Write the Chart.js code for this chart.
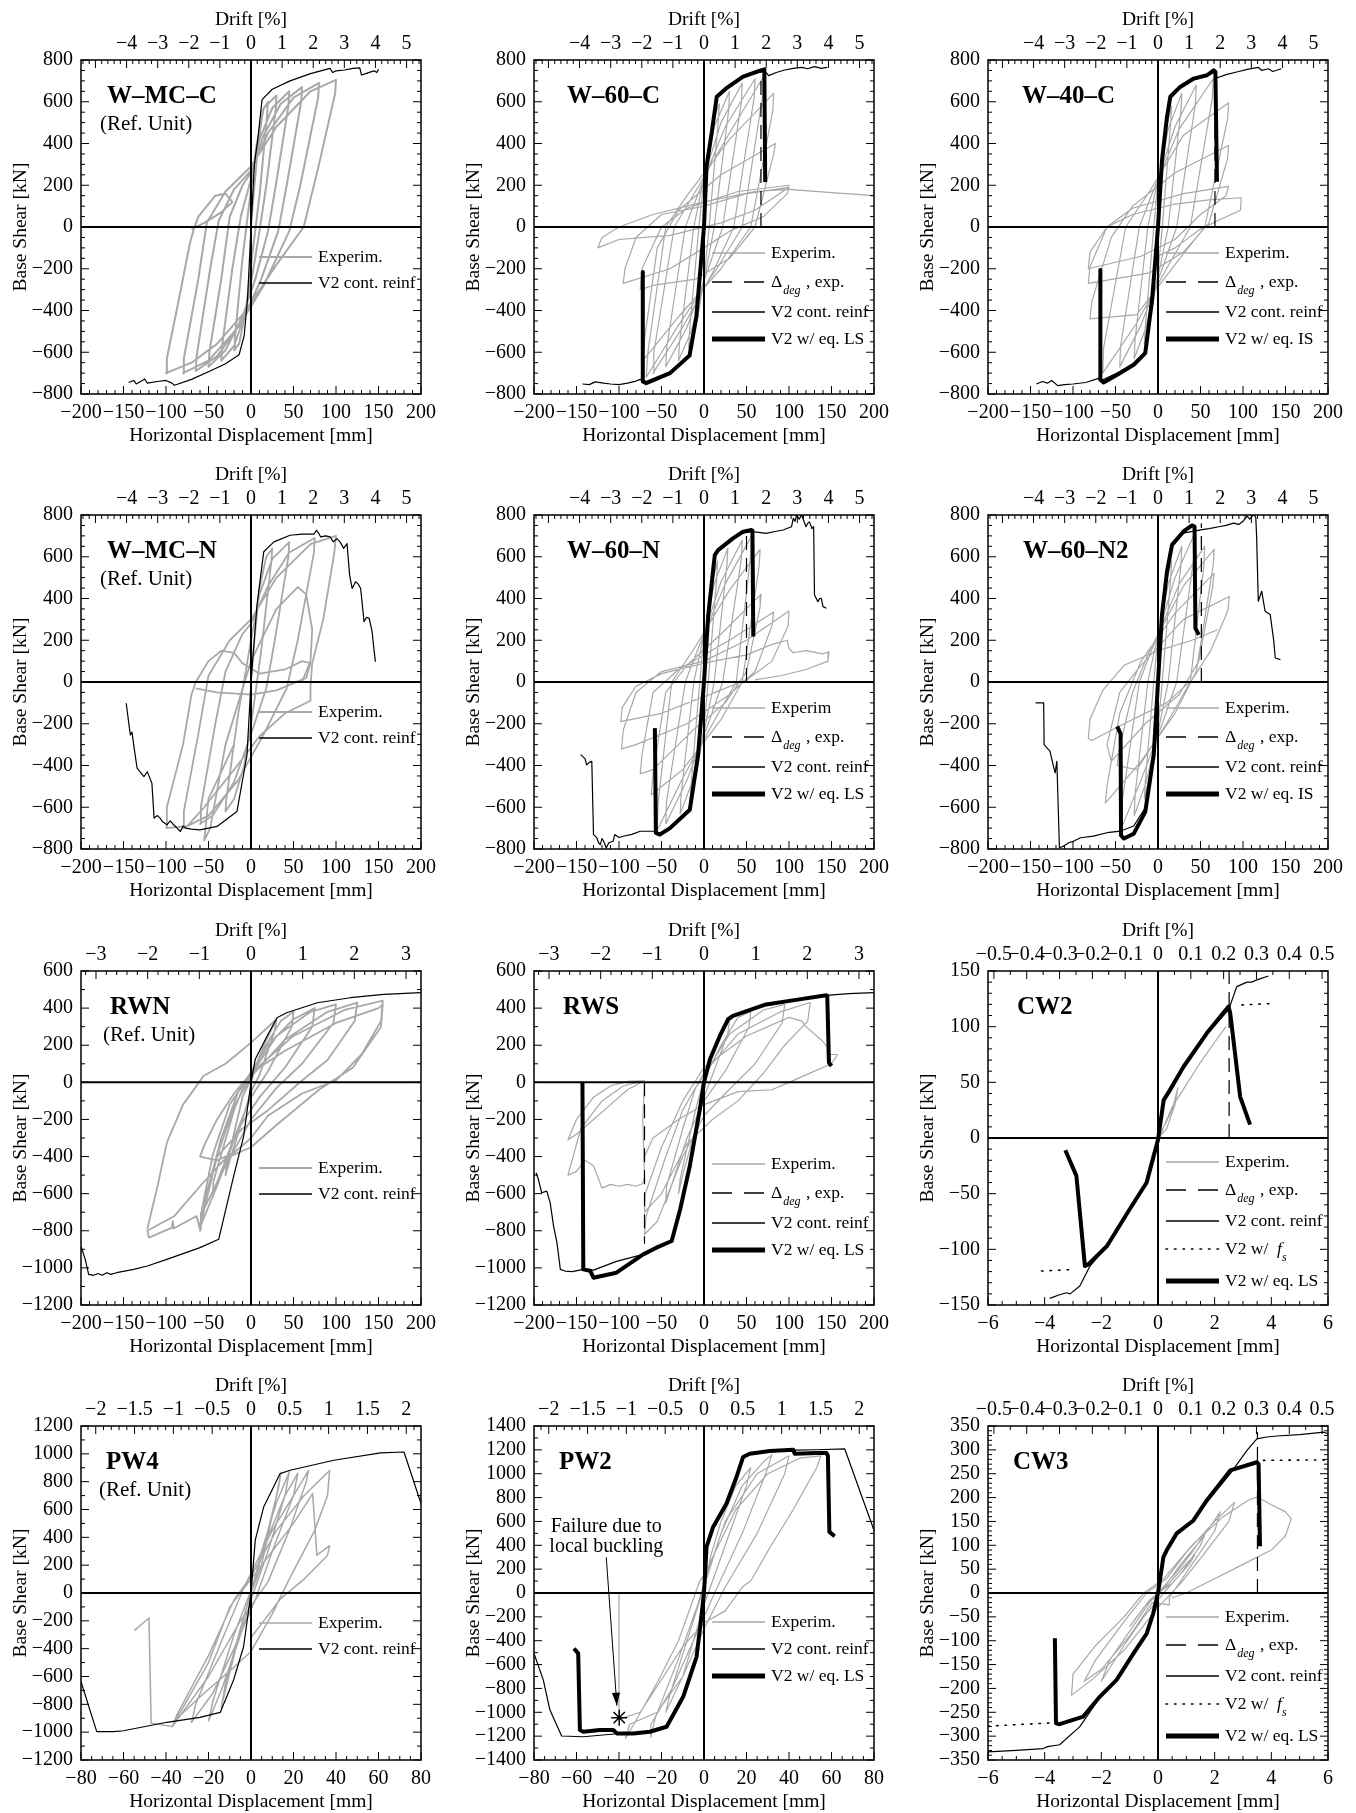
<!DOCTYPE html>
<html>
<head>
<meta charset="utf-8">
<script src="https://cdn.jsdelivr.net/npm/chart.js@4.4.0/dist/chart.umd.min.js"></script>
<style>
html, body { margin: 0; padding: 0; background: #fff; }
#wrap { position: relative; width: 1356px; height: 1813px; }
#wrap canvas { position: absolute; }
</style>
</head>
<body>
<div id="wrap"></div>
<script>
// ---- data: [displacement, base shear] ----

// W-MC-C
const wmcc_exp = [[
  [0,0],[3,150],[8,380],[14,560],[20,600],
  [19,540],[10,150],[4,-50],[0,-180],[-6,-400],[-14,-560],[-20,-590],
  [-19,-530],[-10,-150],[-4,50],[0,180],[6,380],[15,570],[30,630],
  [29,560],[18,200],[10,-20],[2,-220],[-8,-430],[-20,-570],[-35,-640],
  [-34,-570],[-22,-200],[-12,50],[0,230],[10,420],[25,570],[45,650],
  [44,580],[30,220],[20,-20],[5,-250],[-10,-430],[-30,-590],[-50,-670],
  [-49,-600],[-35,-250],[-25,50],[-10,200],[0,260],[15,440],[35,590],[60,670],
  [59,600],[42,200],[32,-20],[12,-250],[-10,-450],[-40,-620],[-65,-690],
  [-64,-620],[-48,-200],[-38,30],[-20,180],[0,270],[20,450],[50,620],[80,690],
  [79,620],[58,200],[45,-20],[15,-280],[-15,-480],[-50,-640],[-80,-700],
  [-79,-630],[-62,-250],[-52,20],[-30,170],[0,290],[30,480],[70,650],[100,705],
  [99,640],[80,300],[62,0],[30,-180],[12,-290],[-10,-420],[-40,-560],[-70,-650],[-100,-700],
  [-99,-630],[-85,-350],[-72,-80],[-68,-20],[-62,50],[-50,110],[-42,150],[-30,160],[-22,120],[-35,70],[-55,20],[-70,-10]
]];
const wmcc_cont = [[-144,-745],[-138,-735],[-135,-752],[-125,-728],[-122,-748],[-110,-740],[-100,-735],[-93,-748],[-90,-758],[-70,-730],[-48,-690],[-30,-655],[-14,-612],[-8,-520],[-4,-340],[0,0],[4,300],[8,420],[13,610],[25,660],[46,700],[70,735],[93,760],[96,740],[100,748],[110,752],[120,760],[128,762],[130,728],[135,735],[140,742],[145,748],[148,740],[150,755]];

// W-60-C
const w60c_exp = [[
  [0,0],[4,300],[10,500],[18,590],[17,520],[6,0],[0,-250],[-8,-450],[-18,-580],[-17,-500],[-6,0],[0,230],
  [12,480],[30,650],[29,560],[12,0],[0,-260],[-15,-500],[-30,-640],[-29,-560],[-12,0],[0,240],
  [20,500],[45,690],[44,600],[22,0],[5,-200],[-20,-480],[-45,-670],[-44,-580],[-22,0],[-5,180],
  [25,480],[60,710],[59,620],[35,0],[10,-220],[-25,-480],[-60,-700],[-59,-600],[-35,0],[-10,170],
  [30,450],[70,720],[69,630],[45,0],[15,-200],[-30,-470],[-68,-720],[-66,-600],[-45,0],[-20,150],
  [30,420],[82,640],[81,560],[55,0],[20,-200],[-30,-430],[-72,-640],[-70,-540],[-55,-100],[-30,80],
  [20,250],[84,400],[82,350],[60,0],[30,-150],[-10,-250],[-60,-280],[-75,-300],[-73,-200],[-50,0],[-20,90],
  [40,170],[100,200],[98,160],[70,50],[30,-20],[0,-100],[-40,-200],[-95,-270],[-93,-200],[-80,-50],[-50,60],[0,100],
  [50,160],[100,190],[60,80],[20,20],[-40,-40],[-100,-60],[-125,-100],[-120,-50],[-100,0],[-60,60],[0,120],[60,170],[100,180],[150,165],[200,150]
]];
const w60c_cont = [[-143,-752],[-135,-755],[-128,-742],[-118,-748],[-110,-752],[-100,-755],[-90,-748],[-80,-738],[-75,-730],[-72,-735],[-68,-740],[-40,-695],[-17,-612],[-9,-425],[-4,-185],[0,0],[3,285],[9,445],[15,620],[26,660],[46,715],[65,742],[72,745],[76,725],[85,740],[95,752],[105,760],[115,765],[122,758],[130,768],[138,760],[145,765]];
const w60c_ls = [[-72,-215],[-72,-740],[-68,-748],[-40,-700],[-17,-616],[-9,-430],[-4,-190],[0,0],[3,290],[9,450],[15,624],[26,664],[46,720],[65,748],[71,755],[72,215]];
const w60c_deg = [[67,0],[67,750]];

// W-40-C
const w40c_exp = [[
  [0,0],[4,280],[10,480],[16,580],[15,500],[5,0],[0,-220],[-8,-420],[-16,-560],[-15,-480],[-5,0],[0,220],
  [12,470],[28,640],[27,560],[12,0],[0,-240],[-14,-480],[-28,-630],[-27,-540],[-12,0],[0,230],
  [20,480],[45,680],[44,590],[22,0],[5,-200],[-20,-470],[-45,-670],[-44,-570],[-22,0],[-5,180],
  [25,470],[65,710],[64,620],[38,0],[10,-200],[-25,-460],[-65,-700],[-64,-580],[-38,0],[-10,170],
  [30,440],[83,595],[82,520],[55,0],[20,-180],[-25,-420],[-80,-440],[-78,-360],[-55,-50],[-30,100],
  [20,260],[83,390],[82,330],[60,20],[30,-120],[-10,-220],[-82,-270],[-80,-190],[-60,0],[-30,90],
  [30,160],[83,195],[80,150],[50,60],[20,-60],[-20,-140],[-82,-200],[-80,-120],[-60,0],[-30,60],[20,110],
  [60,130],[98,140],[97,80],[70,30],[50,-10],[20,-100],[0,-140]
]];
const w40c_cont = [[-143,-752],[-136,-740],[-130,-748],[-125,-735],[-118,-760],[-110,-755],[-100,-752],[-85,-745],[-70,-725],[-67,-735],[-48,-700],[-28,-655],[-15,-600],[-7,-345],[0,0],[5,315],[10.6,520],[14.5,618],[26,665],[42,705],[58,725],[66,740],[70,715],[80,730],[95,745],[105,755],[118,765],[122,750],[130,758],[135,745],[145,758]];
const w40c_ls = [[-67.8,-206],[-67.8,-732],[-64,-745],[-48,-708],[-28.6,-660],[-15,-604],[-7,-350],[0,0],[4.7,320],[10.6,528],[14.5,624],[26,671],[42,711],[57.6,727],[65.5,751],[67.5,743],[69.4,217]];
const w40c_deg = [[67,0],[67,750]];

// W-MC-N
const wmcn_exp = [[
  [0,0],[4,200],[10,450],[18,600],[25,640],
  [24,580],[12,150],[2,-150],[-8,-400],[-20,-560],[-30,-620],
  [-29,-560],[-15,-150],[-5,80],[0,200],[10,420],[25,590],[45,670],
  [44,600],[28,200],[18,-30],[0,-250],[-20,-480],[-45,-640],[-60,-680],
  [-59,-600],[-42,-200],[-30,50],[-10,230],[0,280],[20,460],[45,620],[75,690],
  [74,620],[55,200],[42,-30],[15,-250],[-15,-470],[-50,-640],[-80,-700],
  [-79,-620],[-62,-250],[-50,30],[-25,200],[0,300],[30,500],[70,660],[100,700],
  [98,620],[85,300],[72,90],[70,-20],[70,-90],[40,-150],[10,-260],[-20,-420],[-55,-600],[-75,-690],[-100,-700],
  [-99,-600],[-80,-300],[-70,-60],[-65,0],[-50,100],[-35,150],[-20,140],[-10,90],[10,40],[40,60],[60,100],[70,90],[65,20],[30,-40],[0,-60],[-40,-50],[-65,-30]
], [
  [-20,-300],[-50,-560],[-55,-760],[-48,-700],[-30,-300],[0,100],[30,350],[55,455],[65,420],[72,250],[70,100],[60,0]
]];
const wmcn_cont = [[-146.8,-102],[-142,-254],[-140,-240],[-138,-301],[-134,-413],[-126,-453],[-122,-430],[-120.5,-445],[-116.6,-485],[-114,-652],[-110,-640],[-107,-652],[-104,-670],[-99,-684],[-95,-665],[-91,-684],[-87,-700],[-83,-716],[-80,-690],[-77,-700],[-70,-705],[-60,-708],[-40,-692],[-16.5,-620],[-4.7,-349],[0,0],[7,368],[15,624],[27,671],[46,703],[60,708],[74,708],[77,727],[80,710],[82,695],[88,700],[93,695],[97,671],[101,687],[105,670],[109,640],[113,663],[116,512],[119,448],[123,480],[126,470],[129,448],[133,289],[136,310],[139,305],[142.5,241],[144.5,161],[146.4,97]];

// W-60-N
const w60n_exp = [[
  [0,0],[4,280],[10,480],[16,580],[15,500],[5,0],[0,-220],[-8,-420],[-16,-560],[-15,-480],[-5,0],[0,220],
  [12,470],[28,640],[27,560],[12,0],[0,-240],[-14,-480],[-28,-630],[-27,-540],[-12,0],[0,230],
  [20,480],[45,680],[44,590],[22,0],[5,-200],[-20,-470],[-45,-680],[-44,-570],[-22,0],[-5,180],
  [25,470],[56,700],[55,610],[38,0],[10,-200],[-25,-460],[-55,-710],[-54,-580],[-38,0],[-10,170],
  [30,440],[66,635],[65,560],[45,0],[20,-180],[-25,-420],[-62,-540],[-60,-440],[-45,-50],[-20,80],
  [20,230],[67,420],[66,360],[50,50],[25,-100],[-10,-220],[-60,-420],[-75,-440],[-73,-350],[-60,-50],[-30,60],
  [30,200],[82,335],[80,270],[60,50],[30,-60],[-20,-200],[-80,-300],[-97,-320],[-95,-230],[-80,-50],[-50,50],[0,100],
  [50,200],[100,340],[99,270],[80,100],[50,10],[0,-70],[-50,-150],[-98,-190],[-96,-120],[-80,-20],[-50,40],[0,90],
  [50,130],[80,180],[98,200],[100,160],[105,140],[120,150],[140,135],[147,145],[146,100],[120,60],[90,30],[60,10]
]];
const w60n_cont = [[-145,-348],[-142,-360],[-140,-367],[-138,-397],[-135,-385],[-132,-380],[-130,-731],[-126,-747],[-124,-770],[-122,-779],[-120,-750],[-118,-763],[-115,-795],[-112,-770],[-107,-763],[-105,-731],[-100,-745],[-95,-739],[-85,-730],[-75,-715],[-60,-715],[-52,-723],[-40,-697],[-16.7,-610],[-6.9,-345],[0,0],[5,318],[12.7,605],[16.6,630],[34,685],[46,716],[54,720],[62,718],[73,712],[85,722],[93,728],[103,744],[105,784],[107,770],[109,800],[112,780],[115,800],[118,765],[120,744],[122,760],[124,767],[127,735],[129,744],[130,417],[134,385],[136,400],[138,401],[140,361],[144,353]];
const w60n_ls = [[-57.8,-221],[-56.6,-723],[-52,-731],[-40,-700],[-16.7,-612],[-6.9,-348],[0,0],[5,321],[12.7,608],[16.6,632],[34,688],[46,720],[56,728],[57,725],[58,218]];
const w60n_deg = [[50,0],[50,720]];

// W-60-N2
const w60n2_exp = [[
  [0,0],[4,280],[10,480],[16,580],[15,500],[5,0],[0,-220],[-8,-420],[-16,-560],[-15,-480],[-5,0],[0,220],
  [12,470],[28,650],[27,560],[12,0],[0,-240],[-14,-480],[-28,-640],[-27,-540],[-12,0],[0,230],
  [20,500],[44,720],[43,620],[22,0],[5,-200],[-20,-470],[-43,-700],[-42,-570],[-22,0],[-5,180],
  [25,470],[55,650],[54,560],[38,0],[10,-200],[-25,-420],[-48,-400],[-46,-330],[-30,-50],[-10,150],
  [30,460],[66,635],[65,560],[45,50],[20,-150],[-20,-380],[-62,-580],[-60,-500],[-45,-150],[-20,100],
  [20,330],[66,520],[64,450],[48,100],[25,-60],[-15,-200],[-55,-380],[-60,-300],[-45,-50],[-20,80],
  [30,300],[84,410],[82,340],[62,150],[40,10],[10,-100],[-40,-200],[-78,-280],[-82,-270],[-80,-180],[-65,-40],[-40,80],[0,150],[40,200],[70,250]
]];
const w60n2_cont = [[-144,-100],[-134.5,-100],[-134,-300],[-127,-332],[-123,-403],[-121,-435],[-119,-380],[-116,-794],[-111,-786],[-105,-770],[-99,-762],[-91,-746],[-76,-738],[-60,-722],[-44,-714],[-28.6,-690],[-15,-603],[-5,-345],[0,0],[4.7,318],[10.6,525],[16.5,650],[30,713],[50,729],[60,735],[73,745],[80,750],[89,761],[95,755],[100,770],[104.7,795],[108,780],[112.5,802],[115,790],[116,700],[118,387],[122,435],[126,339],[132,323],[136,203],[138,115],[144,107]];
const w60n2_ls = [[-48,-213],[-44,-248],[-43.5,-735],[-40,-750],[-28.6,-727],[-15,-622],[-5,-348],[0,0],[4.7,322],[10.6,530],[16.5,657],[30,721],[40,750],[43,745],[44,258],[48,226]];
const w60n2_deg = [[51,0],[51,760]];

// RWN
const rwn_exp = [[
  [0,0],[5,80],[15,200],[30,340],[28,280],[10,40],[0,-50],[-10,-200],[-25,-420],[-30,-500],[-28,-430],[-10,-80],[0,20],
  [15,180],[35,330],[50,380],[48,300],[20,60],[0,-80],[-20,-300],[-45,-600],[-44,-530],[-20,-150],[-5,20],
  [20,200],[50,340],[75,400],[72,300],[40,80],[10,-80],[-15,-250],[-40,-560],[-60,-780],[-58,-700],[-35,-300],[-15,-50],[0,40],
  [30,250],[70,380],[100,420],[97,320],[60,100],[30,-30],[0,-200],[-30,-450],[-55,-680],[-60,-800],[-57,-720],[-40,-400],[-20,-130],[0,30],
  [40,230],[90,380],[125,430],[122,330],[90,120],[60,10],[20,-150],[-10,-250],[-40,-400],[-60,-780],
  [-58,-690],[-45,-390],[-25,-120],[0,50],[50,250],[110,390],[155,440],[153,330],[130,150],[100,10],[60,-60],[20,-180],[0,-300],[-20,-380],[-40,-420],[-60,-400],[-55,-340],[-40,-200],[-20,-60],[0,50],
  [40,170],[100,320],[150,400],[155,420],[153,300],[120,80],[80,-40],[30,-230],[0,-350],[-30,-410],[-60,-560],[-90,-720],[-122,-800],[-120,-837],[-93,-783],[-92,-747],[-91,-788],[-64,-720],[-60,-792],[-59,-700]
], [
  [-122,-790],[-110,-560],[-99,-325],[-80,-120],[-67,-38],[-56,34],[-30,100],[0,214],[30,340]
]];
const rwn_cont = [[-200,-883],[-195,-954],[-191,-1035],[-185,-1040],[-180,-1030],[-175,-1040],[-169.6,-1026],[-165,-1035],[-158,-1026],[-138,-1008],[-122,-990],[-99,-954],[-60,-891],[-38,-846],[-20.4,-505],[-8.6,-290],[0,0],[5,124],[19,250],[30.6,348],[42,375],[78,429],[117,456],[156,474],[200,483]];

// RWS
const rws_exp = [[
  [0,0],[8,120],[18,250],[30,340],[28,260],[10,40],[0,-80],[-10,-250],[-25,-500],[-30,-600],[-28,-520],[-10,-150],[0,20],
  [20,200],[40,350],[55,380],[53,300],[25,60],[0,-100],[-20,-300],[-45,-650],[-44,-560],[-25,-250],[-10,-30],[0,40],
  [30,260],[70,390],[95,420],[92,320],[60,100],[25,-60],[0,-180],[-25,-400],[-55,-750],[-70,-820],[-68,-720],[-45,-400],[-25,-150],[0,50],
  [40,260],[90,380],[125,430],[122,330],[95,200],[70,50],[40,-100],[10,-200],[-20,-330],[-50,-600],[-70,-700],[-69,-600],[-50,-350],[-25,-100],[0,80],
  [50,250],[100,350],[115,330],[120,300],[140,220],[145,190],[145,150],[157,150],[150,100],[120,40],[100,0],[80,-40],[40,-50],[0,-120],[-30,-200],[-60,-300],[-70,-400]
], [
  [-70,10],[-90,5],[-110,-20],[-130,-80],[-150,-200],[-160,-310],[-150,-280],[-130,-200],[-110,-120],[-90,-40],[-70,10],[-95,-20],[-120,-100],[-145,-250],[-160,-500],[-150,-480],[-140,-420],[-130,-450],[-120,-570],[-110,-550],[-100,-560],[-90,-550],[-80,-560],[-72,-545],[-70,-510],[-72,-200],[-70,0]
]];
const rws_cont = [[-197.6,-487],[-195,-520],[-191,-595],[-185,-586],[-181,-648],[-177,-774],[-173,-864],[-169,-1008],[-163.6,-1017],[-155,-1020],[-142,-1008],[-130,-1012],[-103,-965],[-71.5,-927],[-56,-891],[-38,-855],[-28,-684],[-16.7,-451],[-4.9,-146],[0,0],[7,124],[18.6,250],[28.4,340],[34,358],[73,420],[112,447],[144,469],[170,478],[200,483]];
const rws_ls = [[-143,-2],[-142,-1008],[-134,-1015],[-130,-1053],[-103,-1026],[-71.5,-927],[-56,-891],[-38,-855],[-28,-684],[-16.7,-451],[-4.9,-146],[0,0],[7,124],[18.6,250],[28.4,340],[34,358],[73,420],[112,447],[144,469],[145,465],[147,106],[150,88]];
const rws_deg = [[-70,0],[-70,-870]];

// CW2
const cw2_exp = [[
  [0,0],[0.3,8],[0.6,30],[0.7,45],[0.5,25],[0.1,5],[-0.2,-15],[-0.45,-40],[-0.3,-25],[0,-5],[0.2,10],[0.5,28],[1,48],[1.5,68],[2,86],[2.4,100]
]];
const cw2_cont = [[-3.82,-144],[-3.5,-141],[-3.23,-139],[-3.1,-140],[-2.76,-133],[-2.4,-115],[-1.8,-97],[-1,-65],[-0.4,-41],[0,-1],[0.2,33],[0.42,42],[0.9,63],[1.72,93],[2.49,115],[2.78,136],[3.14,140],[3.3,140],[3.49,142],[3.9,145.5]];
const cw2_ls = [[-3.27,-11],[-2.88,-34],[-2.58,-115],[-2.46,-113.5],[-1.8,-97],[-1,-64],[-0.4,-40],[0,-1.5],[0.2,34],[0.42,43],[0.9,64],[1.72,94],[2.49,118],[2.55,112],[2.9,37],[3.25,12]];
const cw2_fsNeg = [[-4.11,-119.5],[-2.93,-118]];
const cw2_fsPos = [[2.96,119.5],[4.14,121]];
const cw2_deg = [[2.51,0],[2.51,150]];

// PW4
const pw4_exp = [[
  [0,0],[3,150],[8,450],[13,760],[14,860],[12,700],[5,200],[0,0],[-3,-150],[-8,-450],[-14,-820],[-12,-650],[-4,-200],[0,0],
  [5,300],[12,650],[18,870],[16,700],[8,300],[0,-50],[-6,-350],[-14,-700],[-20,-920],[-18,-780],[-8,-300],[0,20],
  [8,400],[16,700],[22,860],[20,700],[10,300],[2,-50],[-8,-400],[-18,-720],[-28,-930],[-26,-800],[-14,-350],[-3,50],
  [10,450],[20,700],[27,880],[26,800],[18,450],[8,80],[-5,-200],[-20,-600],[-37,-960],[-35,-880],[-20,-450],[-8,-50],[0,120],
  [12,450],[25,700],[37,880],[36,700],[30,450],[18,100],[10,-150],[0,-420],[-10,-560],[-25,-760],[-36,-920],[-33,-850],[-20,-500],[-10,-100],[0,100],
  [10,300],[20,500],[29,714],[31,272],[37,340],[36,270],[25,100],[14,-40],[5,-220],[0,-320]
], [
  [-55,-270],[-48,-180],[-47,-935],[-37,-960]
]];
const pw4_cont = [[-80,-637],[-72.6,-996],[-64.8,-996],[-60,-990],[-39.6,-929],[-24,-894],[-14.5,-858],[-8.2,-625],[-3.5,-386],[0,0],[2,380],[6,620],[10.6,762],[13.7,858],[18.4,882],[39,954],[61,1007],[72,1013],[80,643]];

// PW2
const pw2_exp = [[
  [0,0],[3,300],[8,600],[15,900],[22,1050],[20,900],[10,400],[0,-100],[-5,-400],[-10,-700],[-18,-1000],[-16,-850],[-8,-400],[0,50],
  [8,500],[18,900],[28,1100],[32,1160],[29,1000],[18,500],[5,0],[-5,-400],[-15,-800],[-25,-1100],[-25,-1210],[-23,-1050],[-12,-550],[-3,-100],[0,80],
  [10,600],[25,1000],[40,1150],[38,1000],[25,500],[10,50],[0,-300],[-10,-700],[-22,-1000],[-35,-1100],[-37,-1220],[-33,-1100],[-22,-750],[-12,-400],[-5,-50],[-2,100],[0,150],
  [15,700],[30,1000],[45,1130],[55,1150],[53,1050],[42,700],[30,350],[22,100],[18,50],[10,-150],[0,-250],[-10,-450],[-30,-1000],[-40,-1060],[-40,0]
]];
const pw2_cont = [[-80,-507],[-75.6,-730],[-72.5,-981],[-67,-1199],[-56.8,-1205],[-41,-1180],[-33.3,-1180],[-25.5,-1166],[-17.6,-1124],[-9.8,-873],[-3.5,-538],[-1.6,-258],[0,0],[1.2,383],[4.3,551],[10.6,747],[15.3,970],[18.4,1137],[21.5,1165],[31,1187],[42,1198],[53,1201],[66.2,1209],[80,526]];
const pw2_ls = [[-61.2,-465],[-59.2,-506],[-58.4,-1149],[-56.8,-1163],[-49,-1149],[-42.7,-1149],[-41,-1177],[-33.3,-1177],[-25.5,-1163],[-17.6,-1121],[-9.8,-870],[-3.5,-535],[-1.6,-255],[0,0],[1.2,386],[4.3,554],[10.6,750],[15.3,973],[18.4,1140],[21.5,1168],[31,1190],[42,1201],[42.7,1168],[53,1173],[57.6,1173],[58.3,1150],[59,512],[61.5,476]];
const pw2_star = [[-39.9,-1045]];
const pw2_arrow = [[-46,300],[-41,-945]];

// CW3
const cw3_exp = [[
  [0,0],[0.4,20],[0.9,55],[1.3,80],[1.1,60],[0.5,20],[0,0],[-0.5,-30],[-1,-70],[-0.8,-55],[-0.3,-15],[0,0],
  [0.6,40],[1.2,85],[1.7,130],[1.5,100],[0.8,40],[0.2,0],[-0.5,-50],[-1.2,-110],[-2,-185],[-1.7,-140],[-1,-80],[-0.3,-20],[0.2,10],
  [0.8,60],[1.5,110],[2.2,170],[2,130],[1.2,60],[0.4,-10],[0.4,-25],[-0.2,-20],[-1,-90],[-2,-160],[-2.6,-185],[-2.2,-140],[-1.2,-60],[-0.4,0],[0.3,30],
  [1,85],[2,150],[2.7,190],[2.5,150],[1.6,80],[0.8,20],[0,-30],[-1.2,-120],[-2.3,-180],[-3.05,-214],[-3,-170],[-2.2,-110],[-1.2,-50],[-0.5,0],[0.2,30],
  [1.2,100],[2.3,160],[3.2,195],[3.5,201],[4,185],[4.5,170],[4.7,156],[4.5,120],[4,90],[3,60],[2,30],[1,0],[0.5,-10]
]];
const cw3_cont = [[-6,-333],[-5,-330],[-4.05,-326],[-3.9,-322],[-3.47,-318],[-2.76,-280],[-2.05,-219],[-1.46,-184],[-0.87,-129],[-0.4,-87],[-0.17,-44],[0,0],[0.19,73],[0.31,88],[0.66,122],[1.25,150],[1.72,190],[2.55,250],[3.14,299],[3.49,323],[3.84,327],[4.2,329],[5,332],[5.85,337],[6,334]];
const cw3_ls = [[-3.64,-95],[-3.6,-273],[-3.47,-275],[-2.64,-259],[-2.05,-217],[-1.46,-182],[-0.87,-127],[-0.4,-85],[-0.17,-43],[0,0],[0.19,75],[0.31,90],[0.66,125],[1.25,152],[1.72,194],[2.55,257],[3.49,274],[3.55,270],[3.6,98]];
const cw3_fsNeg = [[-6,-279],[-3.7,-272]];
const cw3_fsPos = [[3.72,278],[6,279]];
const cw3_deg = [[3.51,0],[3.51,337]];

// ---- axes: [min, max, major, minor]; drift: [max, major, minor, hide-below] ----
const AX_W  = { x: [-200, 200, 50, 10], drift: [5.464, 1, 0.2, -4.5], y: [-800, 800, 200, 50] };
const AX_RW = { x: [-200, 200, 50, 10], drift: [3.29, 1, 0.2, null], y: [-1200, 600, 200, 100] };
const AX_PW4 = { x: [-80, 80, 20, 5], drift: [2.19, 0.5, 0.1, null], y: [-1200, 1200, 200, 100] };
const AX_PW2 = { x: [-80, 80, 20, 5], drift: [2.19, 0.5, 0.1, null], y: [-1400, 1400, 200, 100] };
const AX_CW2 = { x: [-6, 6, 2, 0.5], drift: [0.518, 0.1, 0.05, null], y: [-150, 150, 50, 10] };
const AX_CW3 = { x: [-6, 6, 2, 0.5], drift: [0.518, 0.1, 0.05, null], y: [-350, 350, 50, 10] };

const panels = [
  { title: 'W\u2013MC\u2013C', ref: true, tx: 26, ax: AX_W, exp: wmcc_exp, expW: 2, cont: wmcc_cont, legend: ['exp', 'cont'] },
  { title: 'W\u201360\u2013C', tx: 33, ax: AX_W, exp: w60c_exp, cont: w60c_cont, ls: w60c_ls, deg: w60c_deg, legend: ['exp', 'deg', 'cont', 'ls'] },
  { title: 'W\u201340\u2013C', tx: 34, ax: AX_W, exp: w40c_exp, cont: w40c_cont, ls: w40c_ls, deg: w40c_deg, legend: ['exp', 'deg', 'cont', 'ls'], lsLabel: 'V2 w/ eq. IS' },
  { title: 'W\u2013MC\u2013N', ref: true, tx: 26, ax: AX_W, exp: wmcn_exp, expW: 1.8, cont: wmcn_cont, legend: ['exp', 'cont'] },
  { title: 'W\u201360\u2013N', tx: 33, ax: AX_W, exp: w60n_exp, cont: w60n_cont, ls: w60n_ls, deg: w60n_deg, legend: ['exp', 'deg', 'cont', 'ls'], expLabel: 'Experim' },
  { title: 'W\u201360\u2013N2', tx: 35, ax: AX_W, exp: w60n2_exp, cont: w60n2_cont, ls: w60n2_ls, deg: w60n2_deg, legend: ['exp', 'deg', 'cont', 'ls'], lsLabel: 'V2 w/ eq. IS' },
  { title: 'RWN', ref: true, tx: 29, ax: AX_RW, exp: rwn_exp, expW: 1.8, cont: rwn_cont, legend: ['exp', 'cont'] },
  { title: 'RWS', tx: 29, ax: AX_RW, exp: rws_exp, cont: rws_cont, ls: rws_ls, deg: rws_deg, legend: ['exp', 'deg', 'cont', 'ls'] },
  { title: 'CW2', tx: 29, ax: AX_CW2, exp: cw2_exp, cont: cw2_cont, ls: cw2_ls, deg: cw2_deg, fs: [cw2_fsNeg, cw2_fsPos], legend: ['exp', 'deg', 'cont', 'fs', 'ls'] },
  { title: 'PW4', ref: true, tx: 25, ax: AX_PW4, exp: pw4_exp, expW: 1.5, cont: pw4_cont, legend: ['exp', 'cont'] },
  { title: 'PW2', tx: 25, ax: AX_PW2, exp: pw2_exp, cont: pw2_cont, ls: pw2_ls, star: pw2_star, arrow: pw2_arrow, legend: ['exp', 'cont', 'ls'] },
  { title: 'CW3', tx: 25, ax: AX_CW3, exp: cw3_exp, cont: cw3_cont, ls: cw3_ls, deg: cw3_deg, fs: [cw3_fsNeg, cw3_fsPos], legend: ['exp', 'deg', 'cont', 'fs', 'ls'] }
];

const SERIF = '"Liberation Serif", "DejaVu Serif", serif';
const GRAY = '#a8a8a8';
const LEG_ROWS = { 2: [197, 223], 3: [196, 223, 250], 4: [193, 222, 252, 279], 5: [191, 219, 250, 278, 310] };
const COL_X = [0, 453, 907];
const ROW_Y = [0, 455, 911, 1366];

Chart.defaults.font.family = SERIF;
Chart.defaults.color = '#000';

function fmt(v, dec) {
  const r = Number(v.toFixed(dec));
  if (r === 0) return '0';
  return (r < 0 ? '\u2212' : '') + Math.abs(r);
}

function marks(min, max, minor, major) {
  const out = [];
  const i0 = Math.ceil(min / minor - 1e-6), i1 = Math.floor(max / minor + 1e-6);
  for (let i = i0; i <= i1; i++) {
    const v = i * minor, r = v / major;
    out.push([v, Math.abs(r - Math.round(r)) < 1e-6]);
  }
  return out;
}

function legendSample(c, key, p, x1, x2, y) {
  c.save();
  c.strokeStyle = '#000';
  c.lineWidth = 1.3;
  if (key === 'exp') { c.strokeStyle = GRAY; c.lineWidth = p.expW || 1.3; }
  if (key === 'deg') c.setLineDash([20, 12]);
  if (key === 'fs') { c.setLineDash([1.5, 7]); c.lineWidth = 1.6; c.lineCap = 'round'; }
  if (key === 'ls') c.lineWidth = 5;
  c.beginPath(); c.moveTo(x1, y); c.lineTo(x2, y); c.stroke();
  c.restore();
}

function legendText(c, key, p, x, y) {
  c.textAlign = 'left'; c.textBaseline = 'middle';
  c.font = '17.5px ' + SERIF;
  if (key === 'exp') c.fillText(p.expLabel || 'Experim.', x, y);
  else if (key === 'cont') c.fillText('V2 cont. reinf', x, y);
  else if (key === 'ls') c.fillText(p.lsLabel || 'V2 w/ eq. LS', x, y);
  else if (key === 'deg') {
    c.fillText('\u0394', x, y);
    const w = c.measureText('\u0394').width;
    c.font = 'italic 12px ' + SERIF;
    c.fillText('deg', x + w + 1, y + 9);
    const w2 = c.measureText('deg').width;
    c.font = '17.5px ' + SERIF;
    c.fillText(' , exp.', x + w + w2 + 2, y);
  } else if (key === 'fs') {
    c.fillText('V2 w/ ', x, y);
    const w = c.measureText('V2 w/  ').width;
    c.font = 'italic 17.5px ' + SERIF;
    c.fillText('f', x + w, y);
    c.font = 'italic 12px ' + SERIF;
    c.fillText('s', x + w + 5, y + 9);
  }
}

const decor = {
  id: 'decor',
  afterDatasetsDraw(chart, args, o) {
    const p = o.p, c = chart.ctx, a = chart.chartArea;
    const sx = chart.scales.x, sy = chart.scales.y, sd = chart.scales.x2;
    c.save();
    c.strokeStyle = '#000'; c.fillStyle = '#000';
    // axes through the origin
    c.lineWidth = 2;
    c.beginPath();
    const x0 = sx.getPixelForValue(0), y0 = sy.getPixelForValue(0);
    c.moveTo(x0, a.top); c.lineTo(x0, a.bottom);
    c.moveTo(a.left, y0); c.lineTo(a.right, y0);
    c.stroke();
    // inward ticks
    c.lineWidth = 1;
    c.beginPath();
    marks(sx.min, sx.max, p.ax.x[3], p.ax.x[2]).forEach(([v, big]) => {
      const px = sx.getPixelForValue(v);
      c.moveTo(px, a.bottom); c.lineTo(px, a.bottom - (big ? 8 : 4));
    });
    marks(sd.min, sd.max, p.ax.drift[2], p.ax.drift[1]).forEach(([v, big]) => {
      const px = sd.getPixelForValue(v);
      c.moveTo(px, a.top); c.lineTo(px, a.top + (big ? 8 : 4));
    });
    marks(sy.min, sy.max, p.ax.y[3], p.ax.y[2]).forEach(([v, big]) => {
      const py = sy.getPixelForValue(v), l = big ? 8 : 4;
      c.moveTo(a.left, py); c.lineTo(a.left + l, py);
      c.moveTo(a.right, py); c.lineTo(a.right - l, py);
    });
    c.stroke();
    c.lineWidth = 1.5;
    c.strokeRect(a.left, a.top, a.right - a.left, a.bottom - a.top);

    // panel title
    c.textAlign = 'left'; c.textBaseline = 'alphabetic';
    c.font = 'bold 25px ' + SERIF;
    c.fillText(p.title, a.left + p.tx, a.top + 43);
    if (p.ref) {
      c.font = '21px ' + SERIF;
      c.fillText('(Ref. Unit)', a.left + p.tx - 7, a.top + 70);
    }

    // legend
    const rows = LEG_ROWS[p.legend.length];
    p.legend.forEach((k, i) => {
      const y = a.top + rows[i];
      legendSample(c, k, p, a.left + 178, a.left + 231, y);
      legendText(c, k, p, a.left + 237, y);
    });

    // annotation with arrow (PW2)
    if (p.arrow) {
      const [s, t] = p.arrow;
      const xs = sx.getPixelForValue(s[0]), ys = sy.getPixelForValue(s[1]);
      const xt = sx.getPixelForValue(t[0]), yt = sy.getPixelForValue(t[1]);
      c.font = '20px ' + SERIF; c.textAlign = 'center';
      c.fillText('Failure due to', xs, sy.getPixelForValue(556));
      c.fillText('local buckling', xs, sy.getPixelForValue(385));
      c.lineWidth = 1;
      c.beginPath(); c.moveTo(xs, ys); c.lineTo(xt, yt); c.stroke();
      const ang = Math.atan2(yt - ys, xt - xs);
      c.beginPath();
      c.moveTo(xt, yt);
      c.lineTo(xt - 13 * Math.cos(ang) + 4 * Math.sin(ang), yt - 13 * Math.sin(ang) - 4 * Math.cos(ang));
      c.lineTo(xt - 13 * Math.cos(ang) - 4 * Math.sin(ang), yt - 13 * Math.sin(ang) + 4 * Math.cos(ang));
      c.closePath(); c.fill();
    }
    c.restore();
  }
};

function line(data, color, width, extra) {
  return Object.assign({ data, borderColor: color, borderWidth: width, showLine: true, pointRadius: 0, fill: false, tension: 0, borderJoinStyle: 'round' }, extra || {});
}

const wrap = document.getElementById('wrap');
panels.forEach((p, i) => {
  const cv = document.createElement('canvas');
  cv.width = 453; cv.height = 455;
  cv.style.left = COL_X[i % 3] + 'px';
  cv.style.top = ROW_Y[Math.floor(i / 3)] + 'px';
  wrap.appendChild(cv);

  const ds = [];
  if (p.star) ds.push({ data: p.star, showLine: false, pointStyle: 'star', pointRadius: 8, borderColor: '#000', borderWidth: 1.5, order: 0 });
  if (p.ls) ds.push(line(p.ls, '#000', 4, { order: 1 }));
  ds.push(line(p.cont, '#000', 1.2, { order: 2 }));
  if (p.fs) p.fs.forEach(seg => ds.push(line(seg, '#000', 1.6, { borderDash: [1.5, 7], borderCapStyle: 'round', order: 3 })));
  if (p.deg) ds.push(line(p.deg, '#000', 1.2, { borderDash: [14, 8], order: 3 }));
  p.exp.forEach(seg => ds.push(line(seg, GRAY, p.expW || 1.2, { order: 5 })));

  const ax = p.ax;
  const decX = ax.x[2] < 1 ? 1 : 0;
  const decD = ax.drift[1] < 1 ? 1 : 0;
  const tickFont = { family: SERIF, size: 20 };
  const titleFont = { family: SERIF, size: 19.5 };
  new Chart(cv.getContext('2d'), {
    type: 'scatter',
    data: { datasets: ds },
    options: {
      responsive: false,
      animation: false,
      devicePixelRatio: 1,
      layout: { padding: { left: 0, right: 32, top: 0, bottom: 0 } },
      plugins: { legend: { display: false }, tooltip: { enabled: false }, decor: { p } },
      scales: {
        x: {
          type: 'linear', position: 'bottom', min: ax.x[0], max: ax.x[1],
          grid: { display: false, drawTicks: false }, border: { display: false },
          ticks: { stepSize: ax.x[2], autoSkip: false, maxRotation: 0, minRotation: 0, padding: 7, font: tickFont, color: '#000', callback: v => fmt(v, decX) },
          title: { display: true, text: 'Horizontal Displacement [mm]', font: titleFont, color: '#000', padding: { top: 0, bottom: 7 } },
          afterFit: s => { s.height = 61; }
        },
        x2: {
          type: 'linear', position: 'top', min: -ax.drift[0], max: ax.drift[0],
          grid: { display: false, drawTicks: false }, border: { display: false },
          ticks: { stepSize: ax.drift[1], includeBounds: false, autoSkip: false, maxRotation: 0, minRotation: 0, padding: 4, font: tickFont, color: '#000',
            callback: v => (ax.drift[3] !== null && v < ax.drift[3]) ? '' : fmt(v, decD) },
          title: { display: true, text: 'Drift [%]', font: titleFont, color: '#000', padding: { top: 8, bottom: 0 } },
          afterFit: s => { s.height = 60; }
        },
        y: {
          type: 'linear', position: 'left', min: ax.y[0], max: ax.y[1],
          grid: { display: false, drawTicks: false }, border: { display: false },
          ticks: { stepSize: ax.y[2], autoSkip: false, padding: 8, font: tickFont, color: '#000', callback: v => fmt(v, 0) },
          title: { display: true, text: 'Base Shear [kN]', font: titleFont, color: '#000', padding: { top: 9, bottom: 0 } },
          afterFit: s => { s.width = 81; }
        }
      }
    },
    plugins: [decor]
  });
});
</script>
</body>
</html>
